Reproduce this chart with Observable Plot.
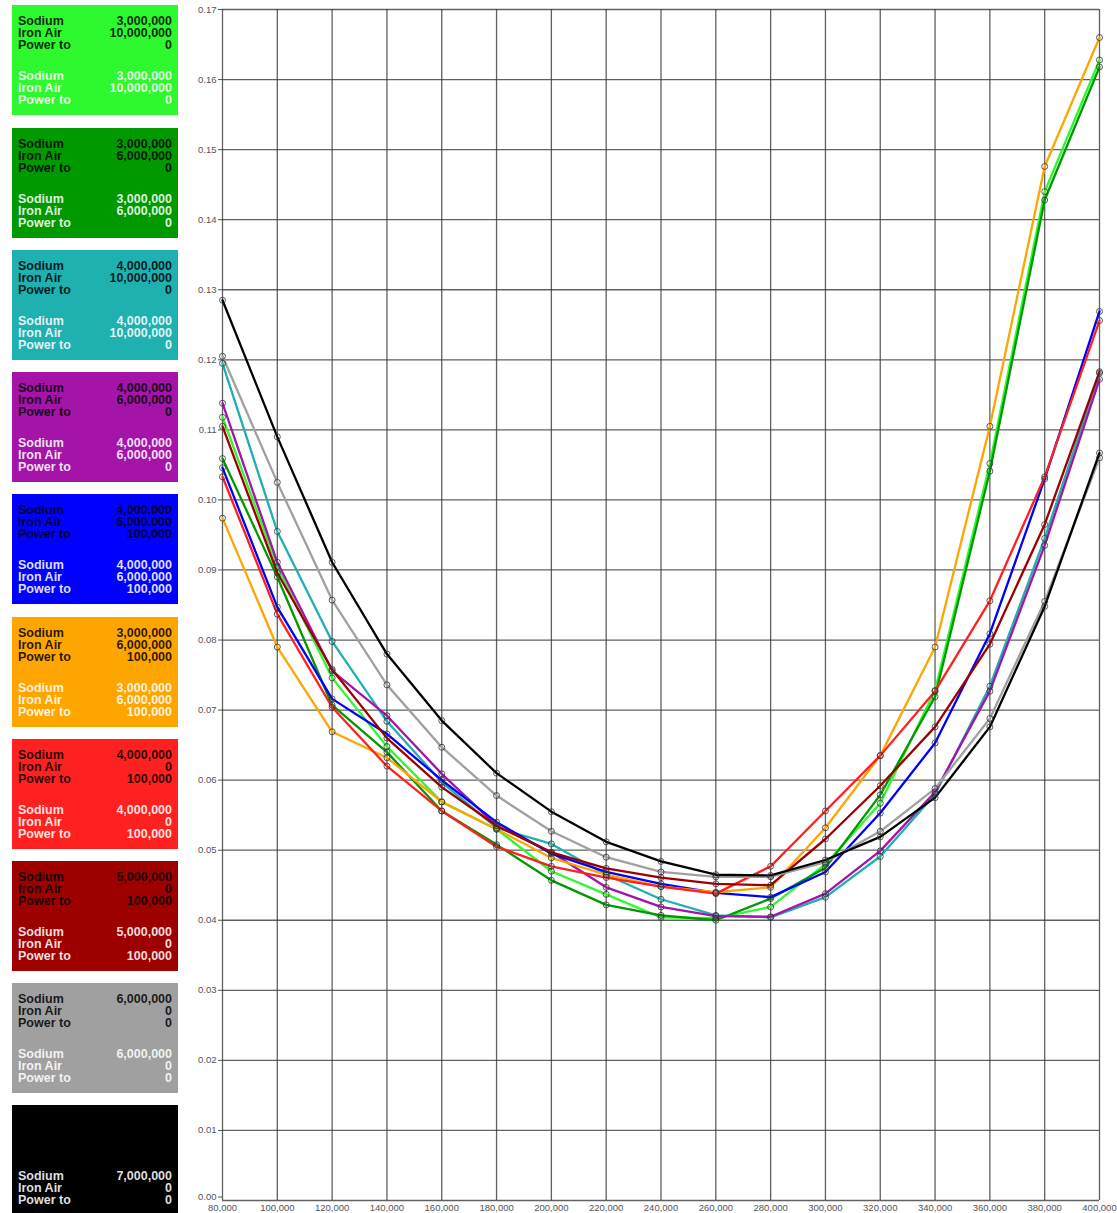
<!DOCTYPE html>
<html>
<head>
<meta charset="utf-8">
<script src="https://cdn.jsdelivr.net/npm/d3@7"></script>
<script src="https://cdn.jsdelivr.net/npm/@observablehq/plot@0.6"></script>
<style>
  body { margin: 0; background: #fff; font-family: "Liberation Sans", Arial, sans-serif; }
  #wrap { position: relative; width: 1117px; height: 1213px; overflow: hidden; }
  #chart { position: absolute; left: 0; top: 0; }
  #legend { position: absolute; left: 12px; top: 0; width: 166px; height: 1213px; }
  .box { position: absolute; left: 0; width: 166px; height: 110px; }
  .blk { position: absolute; left: 6px; right: 6px; font-weight: bold; font-size: 12.5px; line-height: 12px; }
  .row { display: flex; justify-content: space-between; white-space: nowrap; }
</style>
</head>
<body>
<div id="wrap">
  <div id="chart"></div>
  <div id="legend"></div>
</div>
<script>
// ---- data ----
const xValues = [80000, 100000, 120000, 140000, 160000, 180000, 200000, 220000, 240000,
                 260000, 280000, 300000, 320000, 340000, 360000, 380000, 400000];
const yTicks = [0, 0.01, 0.02, 0.03, 0.04, 0.05, 0.06, 0.07, 0.08, 0.09, 0.10,
                0.11, 0.12, 0.13, 0.14, 0.15, 0.16, 0.17];

const seriesNames = ["S3M_IA10M_P0", "S3M_IA6M_P0", "S4M_IA10M_P0", "S4M_IA6M_P0", "S4M_IA6M_P100k",
                     "S3M_IA6M_P100k", "S4M_IA0_P100k", "S5M_IA0_P100k", "S6M_IA0_P0", "S7M_IA0_P0"];
const seriesColors = ["#2ef82e", "#009a00", "#1fb0b0", "#a414a8", "#0000ff",
                      "#ffa500", "#ff2020", "#9e0000", "#a0a0a0", "#000000"];

const sodium  = ["3,000,000", "3,000,000", "4,000,000", "4,000,000", "4,000,000",
                 "3,000,000", "4,000,000", "5,000,000", "6,000,000", "7,000,000"];
const ironAir = ["10,000,000", "6,000,000", "10,000,000", "6,000,000", "6,000,000",
                 "6,000,000", "0", "0", "0", "0"];
const powerTo = ["0", "0", "0", "0", "100,000", "100,000", "100,000", "100,000", "0", "0"];

const s3_10_0   = [0.1118, 0.0905, 0.0746, 0.0648, 0.0569, 0.0530, 0.0470, 0.0437, 0.0404, 0.0403, 0.0419, 0.0480, 0.0567, 0.0728, 0.1052, 0.1440, 0.1628];
const s3_6_0    = [0.1059, 0.0890, 0.0707, 0.0640, 0.0556, 0.0508, 0.0457, 0.0422, 0.0407, 0.0400, 0.0431, 0.0475, 0.0579, 0.0719, 0.1041, 0.1428, 0.1618];
const s4_10_0   = [0.1195, 0.0955, 0.0798, 0.0684, 0.0597, 0.0532, 0.0509, 0.0465, 0.0430, 0.0407, 0.0404, 0.0433, 0.0491, 0.0580, 0.0734, 0.0945, 0.1181];
const s4_6_0    = [0.1138, 0.0911, 0.0756, 0.0692, 0.0609, 0.0535, 0.0497, 0.0447, 0.0419, 0.0406, 0.0405, 0.0438, 0.0499, 0.0583, 0.0727, 0.0935, 0.1172];
const s4_6_100  = [0.1046, 0.0847, 0.0716, 0.0666, 0.0600, 0.0540, 0.0495, 0.0469, 0.0452, 0.0439, 0.0433, 0.0469, 0.0553, 0.0653, 0.0809, 0.1030, 0.1269];
const s3_6_100  = [0.0974, 0.0790, 0.0669, 0.0632, 0.0569, 0.0530, 0.0489, 0.0465, 0.0448, 0.0440, 0.0447, 0.0532, 0.0635, 0.0790, 0.1105, 0.1476, 0.1660];
const s4_0_100  = [0.1033, 0.0837, 0.0704, 0.0620, 0.0556, 0.0505, 0.0477, 0.0461, 0.0448, 0.0438, 0.0477, 0.0556, 0.0635, 0.0727, 0.0856, 0.1033, 0.1256];
const s5_0_100  = [0.1105, 0.0896, 0.0758, 0.0660, 0.0590, 0.0535, 0.0497, 0.0474, 0.0461, 0.0452, 0.0450, 0.0516, 0.0592, 0.0676, 0.0794, 0.0965, 0.1183];
const s6_0_0    = [0.1205, 0.1025, 0.0857, 0.0736, 0.0647, 0.0578, 0.0527, 0.0490, 0.0469, 0.0462, 0.0462, 0.0483, 0.0527, 0.0588, 0.0688, 0.0855, 0.1060];
const s7_0_0    = [0.1285, 0.1090, 0.0911, 0.0780, 0.0685, 0.0610, 0.0555, 0.0512, 0.0484, 0.0465, 0.0464, 0.0486, 0.0519, 0.0575, 0.0676, 0.0848, 0.1067];

const seriesValues = [s3_10_0, s3_6_0, s4_10_0, s4_6_0, s4_6_100, s3_6_100, s4_0_100, s5_0_100, s6_0_0, s7_0_0];

// ---- tidy table ----
const data = [];
seriesValues.forEach((vals, i) => {
  vals.forEach((v, j) => data.push({ series: seriesNames[i], x: xValues[j], y: v }));
});

const yTicksUpper = yTicks.filter(d => d > 0);
const yTickZero = yTicks.filter(d => d === 0);

// ---- chart ----
const chart = Plot.plot({
  width: 1117,
  height: 1213,
  marginLeft: 222,
  marginRight: 18,
  marginTop: 9,
  marginBottom: 13,
  style: { fontFamily: "'Liberation Sans', Arial, sans-serif", fontSize: "9.5px", color: "#555", background: "transparent", overflow: "visible" },
  x: { domain: [80000, 400000] },
  y: { domain: [0, 0.17] },
  color: { domain: seriesNames, range: seriesColors },
  marks: [
    Plot.gridX(xValues, { stroke: "#3a3a3a", strokeOpacity: 0.8, strokeWidth: 1.3 }),
    Plot.gridY(yTicks, { stroke: "#3a3a3a", strokeOpacity: 0.8, strokeWidth: 1.3 }),
    Plot.axisX(xValues, { tickSize: 0, tickPadding: 4, tickFormat: d3.format(","), label: null }),
    Plot.axisY(yTicksUpper, { tickSize: 4, tickPadding: 2, tickFormat: d3.format(".2f"), label: null }),
    Plot.axisY(yTickZero, { tickSize: 4, tickPadding: 2, tickFormat: d3.format(".2f"), label: null, dy: -3.5 }),
    Plot.line(data, { x: "x", y: "y", z: "series", stroke: "series", strokeWidth: 2.3 }),
    Plot.dot(data, { x: "x", y: "y", r: 3, fill: "none", stroke: "#333", strokeWidth: 1, strokeOpacity: 0.8 })
  ]
});
document.getElementById("chart").appendChild(chart);

// ---- legend boxes ----
const legend = document.getElementById("legend");
const boxTops = [5, 128, 250, 372, 494, 617, 739, 861, 983, 1105];
seriesNames.forEach((name, i) => {
  const box = document.createElement("div");
  box.className = "box";
  box.style.top = boxTops[i] + "px";
  box.style.background = seriesColors[i];
  if (i === seriesNames.length - 1) box.style.height = "120px";
  const mk = (top, color) => {
    const blk = document.createElement("div");
    blk.className = "blk";
    blk.style.top = top + "px";
    blk.style.color = color;
    const rows = [["Sodium", sodium[i]], ["Iron Air", ironAir[i]], ["Power to", powerTo[i]]];
    rows.forEach(([a, b]) => {
      const r = document.createElement("div");
      r.className = "row";
      const l = document.createElement("span"); l.textContent = a;
      const v = document.createElement("span"); v.textContent = b;
      r.appendChild(l); r.appendChild(v);
      blk.appendChild(r);
    });
    box.appendChild(blk);
  };
  mk(10, "rgba(0,0,0,0.85)");
  mk(65, "rgba(255,255,255,0.88)");
  legend.appendChild(box);
});
</script>
</body>
</html>
